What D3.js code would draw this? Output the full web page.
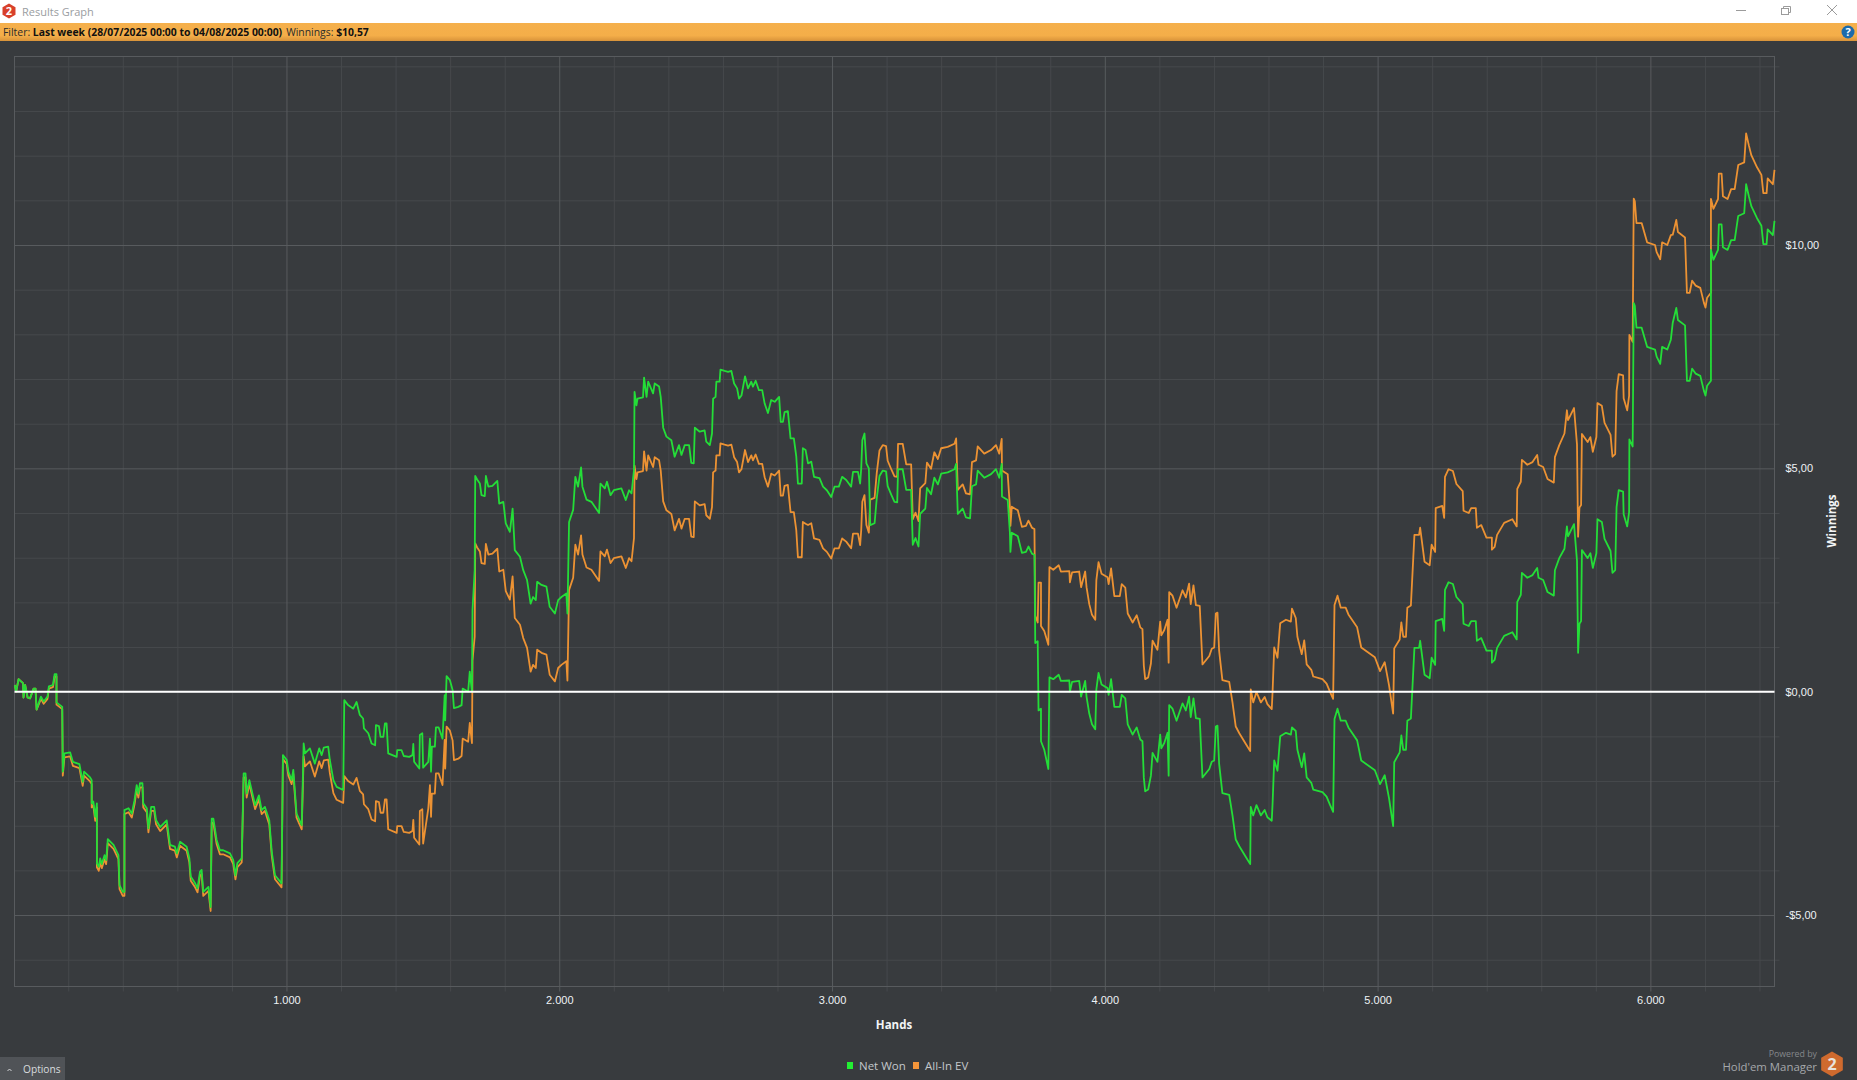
<!DOCTYPE html>
<html>
<head>
<meta charset="utf-8">
<title>Results Graph</title>
<script src="https://cdn.jsdelivr.net/npm/d3@7"></script>
<style>
  html, body { margin: 0; padding: 0; background: #383b3e; overflow: hidden; }
  svg { display: block; font-family: "Open Sans", "Noto Sans", sans-serif; }
  .domain { display: none; }
  .grid-minor line { stroke: #46494c; stroke-width: 1; }
  .grid-major line { stroke: #585b5e; stroke-width: 1; }
  .labels text { fill: #eef2f5; font-size: 11px; }
  .labels line { display: none; }
</style>
</head>
<body>
<div id="chart"></div>
<script>
var hands = [
  4,9,18,34,36,42,51,60,73,80,
  84,100,110,124,129,144,150,157,157,178,
  180,186,207,217,241,253,258,280,286,286,
  292,299,305,305,312,317,323,333,339,345,
  366,384,388,400,406,406,421,433,443,451,
  457,463,472,475,488,494,504,515,522,537,
  561,573,591,598,610,634,644,649,665,674,
  683,689,695,714,722,726,732,744,756,768,
  793,805,813,820,836,843,850,854,864,885,
  899,909,921,937,946,958,982,987,1001,1007,
  1019,1025,1037,1056,1063,1068,1086,1104,1120,1129,
  1137,1153,1159,1172,1184,1208,1212,1226,1245,1257,
  1269,1281,1284,1300,1312,1325,1328,1339,1345,1355,
  1361,1367,1373,1404,1406,1422,1430,1450,1462,1465,
  1468,1487,1489,1498,1501,1520,1526,1530,1533,1544,
  1548,1558,1572,1580,1582,1587,1599,1609,1614,1630,
  1642,1646,1666,1672,1680,1682,1690,1692,1699,1709,
  1715,1727,1731,1740,1755,1773,1780,1795,1804,1819,
  1829,1837,1856,1868,1882,1895,1904,1914,1919,1935,
  1953,1965,1984,1996,2008,2026,2030,2036,2051,2059,
  2069,2080,2085,2100,2118,2146,2151,2167,2175,2188,
  2200,2228,2244,2256,2265,2274,2276,2283,2287,2307,
  2311,2320,2326,2344,2350,2366,2372,2381,2393,2411,
  2423,2439,2448,2460,2476,2484,2493,2497,2515,2533,
  2539,2552,2560,2564,2573,2576,2588,2591,2606,2619,
  2631,2641,2652,2659,2668,2681,2692,2704,2710,2720,
  2732,2744,2753,2765,2777,2790,2806,2812,2820,2826,
  2838,2848,2860,2869,2875,2889,2893,2903,2912,2924,
  2934,2954,2967,2981,2997,3009,3025,3037,3052,3070,
  3077,3095,3103,3107,3111,3119,3126,3135,3140,3156,
  3164,3174,3186,3198,3204,3217,3229,3239,3242,3259,
  3272,3290,3296,3306,3317,3323,3342,3348,3363,3375,
  3388,3400,3424,3449,3455,3461,3479,3491,3506,3513,
  3528,3534,3558,3583,3601,3613,3622,3623,3644,3652,
  3654,3659,3681,3696,3711,3720,3733,3742,3745,3754,
  3757,3766,3766,3778,3793,3797,3811,3831,3839,3870,
  3872,3880,3906,3913,3928,3933,3943,3953,3965,3969,
  3977,3988,4010,4014,4023,4035,4055,4062,4075,4084,
  4102,4117,4130,4138,4143,4148,4159,4169,4175,4193,
  4203,4207,4218,4230,4234,4236,4248,4263,4285,4297,
  4309,4315,4325,4334,4348,4358,4383,4392,4401,4407,
  4413,4419,4431,4456,4468,4480,4493,4517,4533,4535,
  4544,4556,4572,4586,4596,4612,4615,4621,4633,4643,
  4664,4682,4686,4700,4706,4722,4731,4740,4757,4764,
  4798,4813,4826,4837,4842,4853,4865,4883,4893,4925,
  4940,4990,5009,5026,5042,5057,5061,5081,5087,5094,
  5104,5109,5122,5135,5152,5156,5172,5191,5198,5211,
  5213,5237,5244,5247,5260,5276,5289,5312,5315,5334,
  5343,5360,5364,5380,5399,5419,5419,5429,5438,5464,
  5494,5510,5512,5525,5529,5549,5568,5585,5590,5607,
  5623,5646,5650,5666,5685,5694,5698,5720,5731,5735,
  5740,5746,5749,5770,5780,5789,5802,5806,5822,5832,
  5854,5861,5871,5876,5884,5900,5902,5915,5922,5923,
  5935,5939,5943,5949,5968,5988,6017,6023,6036,6043,
  6062,6075,6082,6095,6101,6127,6134,6144,6153,6166,
  6183,6196,6202,6208,6222,6222,6231,6248,6251,6261,
  6266,6283,6296,6309,6322,6344,6351,6361,6370,6391,
  6407,6414,6426,6430,6449,6455
];

var netWon = [
  .15,0,.28,.19,-.13,.15,-.13,-.15,.07,.07,
  -.40,-.11,-.22,-.11,.12,.15,.39,.39,-.24,-.34,
  -1.79,-1.38,-1.36,-1.57,-1.62,-2.02,-1.79,-1.92,-1.98,-2.50,
  -2.46,-2.80,-2.50,-3.84,-3.92,-3.73,-3.86,-3.66,-3.77,-3.30,
  -3.43,-3.66,-4.33,-4.48,-4.48,-2.65,-2.61,-2.73,-2.43,-2.09,
  -2.28,-2.05,-2.05,-2.50,-2.61,-3.06,-2.58,-2.58,-2.88,-3.03,
  -2.88,-3.43,-3.47,-3.62,-3.36,-3.47,-3.73,-4.14,-4.29,-4.40,
  -4.03,-3.99,-4.48,-4.37,-4.82,-2.84,-2.84,-3.32,-3.55,-3.55,
  -3.62,-3.77,-4.11,-3.84,-3.73,-1.83,-1.83,-2.28,-1.98,-2.54,
  -2.32,-2.65,-2.58,-2.88,-3.58,-4.11,-4.29,-1.42,-1.53,-1.79,
  -1.98,-1.75,-2.73,-2.99,-1.16,-1.38,-1.27,-1.61,-1.27,-1.42,
  -1.25,-1.23,-1.53,-1.98,-2.13,-2.20,-.19,-.30,-.38,-.23,
  -.52,-.60,-.82,-.93,-1.16,-1.20,-.75,-.77,-1.01,-1.01,
  -.71,-.71,-1.38,-1.46,-1.31,-1.31,-1.44,-1.46,-1.42,-1.17,
  -1.57,-1.72,-.97,-.93,-1.70,-1.57,-1.05,-1.79,-1.23,-1.23,
  -.80,-.80,-1.05,-.08,-.64,.35,.26,.04,-.37,-.34,
  -.30,.07,0,.45,0,1.83,2.72,4.83,4.75,4.66,
  4.40,4.38,4.83,4.59,4.61,4.72,4.21,4.25,3.77,3.58,
  4.10,3.17,3.02,2.72,2.50,1.97,2.12,2.05,2.46,2.39,
  2.35,1.90,1.75,2.05,2.12,2.20,1.75,3.80,4.07,4.81,
  4.59,5.02,4.59,4.30,4.25,4.00,4.66,4.55,4.70,4.40,
  4.51,4.55,4.29,4.51,4.44,4.96,6.71,6.41,6.56,6.59,
  7.03,6.60,6.94,6.68,6.90,6.83,6.60,5.91,5.71,5.63,
  5.26,5.52,5.30,5.52,5.52,5.12,5.11,5.91,5.82,5.85,
  5.60,5.52,5.78,6.56,6.60,6.94,6.94,7.21,7.18,7.16,
  7.18,6.90,6.79,6.56,6.63,7.06,6.79,6.94,6.83,6.96,
  6.75,6.75,6.45,6.24,6.53,6.49,6.60,6.04,6.04,6.26,
  6.28,5.67,5.67,5.26,4.66,4.66,5.45,5.41,5.11,5.15,
  4.81,4.78,4.59,4.51,4.36,4.59,4.59,4.81,4.74,4.59,
  4.92,4.92,4.66,5.00,5.63,5.78,5.11,5.00,3.73,3.77,
  4.33,4.83,4.95,4.93,4.60,4.41,4.25,4.24,4.98,4.98,
  4.52,4.52,3.29,3.44,3.25,3.98,4.10,4.56,4.42,4.79,
  4.64,4.88,4.91,4.98,5.10,3.98,4.10,3.90,3.88,4.60,
  4.64,4.95,4.79,4.87,4.98,4.79,5.10,4.37,4.29,3.56,
  3.13,3.56,3.48,3.11,3.13,3.25,3.09,3.06,1.09,1.13,
  -.42,-.38,-1.11,-1.30,-1.73,.32,.28,.38,.24,.25,
  0,.22,.24,-.11,.24,-.11,-.49,-.73,-.84,.05,
  .42,.16,.08,-.07,.28,-.34,-.34,-.07,-.15,-.73,
  -.96,-.80,-1.07,-1.11,-1.93,-2.23,-2.19,-1.88,-1.37,-1.57,
  -.96,-1.27,-1.15,-.92,-1.88,-.30,-.38,-.65,-.26,-.42,
  -.11,-.57,-.15,-.59,-.61,-1.92,-1.73,-1.57,-1.54,-.78,
  -.76,-1.61,-2.27,-2.31,-2.77,-3.31,-3.46,-3.70,-3.86,-2.58,
  -2.77,-2.54,-2.77,-2.65,-2.81,-2.89,-2.50,-1.54,-1.77,-1.00,
  -.92,-.96,-.80,-.88,-1.30,-1.69,-1.38,-1.92,-2.04,-2.19,
  -2.25,-2.35,-2.54,-2.69,-.61,-.38,-.65,-.65,-.80,-1.09,
  -1.54,-1.76,-2.07,-1.87,-2.39,-3.01,-1.58,-1.36,-.98,-1.30,
  -1.30,-.65,-.60,.98,.98,1.14,.38,.30,.76,.60,
  1.58,1.63,1.36,2.28,2.45,2.41,2.12,1.96,1.52,1.47,
  1.58,1.58,1.14,1.20,.92,.92,.65,.71,.98,1.25,
  1.33,1.17,2.01,2.17,2.66,2.55,2.61,2.77,2.55,2.50,
  2.23,2.15,2.72,2.99,3.20,3.70,3.48,3.75,2.93,.87,
  1.52,1.58,3.17,2.99,3.10,2.77,3.10,3.86,3.80,3.42,
  3.15,2.66,2.72,4.13,4.51,4.48,3.97,3.70,4.02,5.65,
  5.49,8.70,8.64,8.15,8.15,7.72,7.66,7.50,7.34,7.72,
  7.66,7.88,8.26,8.59,8.32,8.20,6.96,6.96,7.23,7.12,
  7.07,6.74,6.63,6.85,6.96,9.89,9.67,9.89,10.46,10.46,
  9.95,9.89,10.11,10.11,10.65,10.71,11.36,11.09,10.87,10.60,
  10.43,10.02,10.02,10.35,10.22,10.54
];

var allInEv = [
  .15,0,.28,.19,-.13,.15,-.13,-.15,.07,.07,
  -.40,-.16,-.27,-.16,.07,.10,.34,.34,-.29,-.39,
  -1.88,-1.47,-1.45,-1.66,-1.71,-2.11,-1.88,-2.01,-2.07,-2.59,
  -2.55,-2.89,-2.59,-3.93,-4.01,-3.82,-3.95,-3.75,-3.86,-3.39,
  -3.52,-3.75,-4.42,-4.57,-4.57,-2.74,-2.70,-2.82,-2.52,-2.18,
  -2.37,-2.14,-2.14,-2.59,-2.70,-3.15,-2.67,-2.67,-2.97,-3.12,
  -2.97,-3.52,-3.56,-3.71,-3.45,-3.56,-3.82,-4.23,-4.38,-4.49,
  -4.12,-4.08,-4.57,-4.46,-4.91,-2.93,-2.93,-3.41,-3.64,-3.64,
  -3.71,-3.86,-4.20,-3.93,-3.82,-1.92,-1.92,-2.37,-2.07,-2.63,
  -2.41,-2.74,-2.67,-2.97,-3.67,-4.20,-4.38,-1.51,-1.62,-1.88,
  -2.07,-1.84,-2.82,-3.08,-1.45,-1.67,-1.56,-1.90,-1.56,-1.71,
  -1.54,-1.52,-1.82,-2.27,-2.42,-2.49,-1.89,-2.00,-2.08,-1.93,
  -2.22,-2.30,-2.52,-2.63,-2.86,-2.90,-2.45,-2.47,-2.71,-2.71,
  -2.41,-2.41,-3.08,-3.16,-3.01,-3.01,-3.14,-3.16,-3.12,-2.87,
  -3.27,-3.42,-2.67,-2.63,-3.40,-2.61,-2.09,-2.80,-2.28,-2.28,
  -1.83,-1.83,-2.09,-1.08,-1.72,-.78,-.87,-1.09,-1.53,-1.50,
  -1.44,-1.05,-1.12,-.70,-1.15,.70,1.23,3.32,3.23,3.14,
  2.88,2.86,3.31,3.07,3.09,3.20,2.69,2.73,2.25,2.06,
  2.58,1.65,1.50,1.20,.98,.45,.60,.53,.94,.87,
  .83,.38,.23,.53,.60,.68,.25,2.28,2.55,3.29,
  3.07,3.50,3.07,2.78,2.73,2.48,3.14,3.03,3.18,2.88,
  2.99,3.03,2.77,2.99,2.92,3.44,5.06,4.76,4.91,4.94,
  5.38,4.95,5.29,5.03,5.25,5.18,4.95,4.26,4.06,3.98,
  3.61,3.87,3.65,3.87,3.87,3.47,3.46,4.26,4.17,4.20,
  3.95,3.87,4.13,4.91,4.95,5.29,5.29,5.56,5.53,5.51,
  5.53,5.25,5.14,4.91,4.98,5.41,5.14,5.29,5.18,5.31,
  5.10,5.10,4.80,4.59,4.88,4.84,4.95,4.39,4.39,4.61,
  4.63,4.02,4.02,3.61,3.01,3.01,3.80,3.76,3.73,3.77,
  3.43,3.40,3.21,3.13,2.98,3.21,3.21,3.43,3.36,3.21,
  3.54,3.54,3.28,3.62,4.25,4.40,3.73,3.56,4.30,4.34,
  4.90,5.40,5.52,5.50,5.17,4.98,4.82,4.81,5.55,5.55,
  5.09,5.09,3.86,4.01,3.82,4.55,4.67,5.13,4.99,5.36,
  5.21,5.45,5.48,5.55,5.67,4.52,4.64,4.44,4.42,5.14,
  5.18,5.49,5.33,5.41,5.52,5.33,5.66,4.95,4.87,4.14,
  3.71,4.14,4.06,3.69,3.71,3.83,3.67,3.64,1.70,1.55,
  2.44,2.44,1.47,1.36,1.05,2.79,2.73,2.83,2.69,2.70,
  2.45,2.67,2.69,2.34,2.69,2.34,1.96,1.72,1.61,2.50,
  2.90,2.64,2.56,2.41,2.76,2.14,2.14,2.41,2.33,1.75,
  1.55,1.71,1.44,1.40,.58,.28,.32,.63,1.14,.94,
  1.57,1.26,1.38,1.61,.65,2.23,2.15,1.88,2.27,2.11,
  2.42,1.96,2.38,1.94,1.92,.61,.80,.96,.99,1.75,
  1.77,.92,.26,.22,-.24,-.78,-.93,-1.17,-1.33,.05,
  -.24,-.01,-.24,-.12,-.28,-.39,0,.99,.76,1.53,
  1.61,1.57,1.86,1.65,1.23,.84,1.15,.61,.49,.34,
  .28,.18,-.01,-.16,1.94,2.15,1.88,1.88,1.73,1.44,
  .99,.77,.46,.66,.14,-.49,.97,1.17,1.55,1.23,
  1.23,1.88,1.93,3.51,3.51,3.67,2.91,2.83,3.29,3.13,
  4.11,4.16,3.89,4.81,4.98,4.94,4.65,4.49,4.05,4.00,
  4.11,4.11,3.67,3.73,3.45,3.45,3.18,3.24,3.51,3.78,
  3.86,3.70,4.54,4.70,5.19,5.08,5.14,5.30,5.08,5.03,
  4.76,4.68,5.25,5.52,5.78,6.30,6.08,6.35,5.53,3.47,
  4.12,4.18,5.77,5.59,5.70,5.37,5.70,6.46,6.40,6.02,
  5.75,5.26,5.32,6.73,7.11,7.08,6.57,6.30,6.62,7.99,
  7.83,11.04,10.98,10.49,10.49,10.06,10.00,9.84,9.68,10.06,
  10.00,10.22,10.23,10.56,10.29,10.17,8.93,8.93,9.20,9.09,
  9.04,8.71,8.60,8.82,8.93,11.03,10.81,11.03,11.60,11.60,
  11.09,11.03,11.25,11.25,11.79,11.85,12.50,12.23,12.01,11.74,
  11.57,11.16,11.16,11.49,11.36,11.68
];

// marcas dos eixos
var majorHands = [1000, 2000, 3000, 4000, 5000, 6000];
var minorHands = [200,400,600,800,1200,1400,1600,1800,2200,2400,2600,2800,3200,3400,3600,3800,4200,4400,4600,4800,5200,5400,5600,5800,6200,6400];
var majorWinnings = [-5, 0, 5, 10];
var minorWinnings = [-6,-4,-3,-2,-1,1,2,3,4,6,7,8,9,11,12,13,14];

var width = 1857, height = 1080;
var plot = {left: 14.5, right: 1774.5, top: 56.5, bottom: 986.5};

var svg = d3.select("#chart").append("svg")
    .attr("width", width)
    .attr("height", height);

// Barra de titulo da janela
svg.append("rect").attr("width", width).attr("height", 23).attr("fill", "#ffffff");

var barGrad = svg.append("defs").append("linearGradient")
    .attr("id", "barGrad").attr("x1", 0).attr("x2", 0).attr("y1", 0).attr("y2", 1);
barGrad.append("stop").attr("offset", "0").attr("stop-color", "#f5b04c");
barGrad.append("stop").attr("offset", "0.7").attr("stop-color", "#f4ae49");
barGrad.append("stop").attr("offset", "1").attr("stop-color", "#d8933a");

svg.append("rect").attr("y", 23).attr("width", width).attr("height", 18).attr("fill", "url(#barGrad)");

function hexagon(g, cx, cy, r, fill, textColor, size) {
  var pts = d3.range(6).map(function(i) {
    var a = Math.PI / 6 + i * Math.PI / 3;
    return [cx + r * Math.cos(a), cy + r * Math.sin(a)];
  });
  g.append("polygon").attr("points", pts.join(" ")).attr("fill", fill);
  g.append("text").attr("x", cx).attr("y", cy + size * 0.37)
    .attr("text-anchor", "middle").attr("fill", textColor)
    .attr("font-size", size).attr("font-weight", 700).text("2");
}

hexagon(svg, 9, 11, 7.5, "#d8402a", "#ffffff", 11);

svg.append("text").attr("x", 22).attr("y", 16)
    .attr("font-size", 11).attr("fill", "#9a9da1").text("Results Graph");

// Botoes da janela
var win = svg.append("g").attr("stroke", "#9b9b9b").attr("fill", "none").attr("stroke-width", 1);
win.append("line").attr("x1", 1736).attr("x2", 1746).attr("y1", 10.5).attr("y2", 10.5);
win.append("rect").attr("x", 1781.5).attr("y", 8.5).attr("width", 7).attr("height", 6);
win.append("path").attr("d", "M1783.5 8.5V6.5H1790.5V12.5H1788.5");
win.append("line").attr("x1", 1827).attr("x2", 1837).attr("y1", 5).attr("y2", 15);
win.append("line").attr("x1", 1837).attr("x2", 1827).attr("y1", 5).attr("y2", 15);

// Filtro
var filter = svg.append("text").attr("x", 3).attr("y", 36)
    .attr("font-size", 10.4).attr("fill", "#2b2b2b");
filter.append("tspan").text("Filter: ");
filter.append("tspan").attr("font-weight", 700).attr("fill", "#111111")
    .text("Last week (28/07/2025 00:00 to 04/08/2025 00:00)");
filter.append("tspan").attr("dx", 4).text("Winnings: ");
filter.append("tspan").attr("font-weight", 700).attr("fill", "#111111").text("$10,57");

svg.append("circle").attr("cx", 1848).attr("cy", 32).attr("r", 6.5).attr("fill", "#1c6bab");
svg.append("text").attr("x", 1848).attr("y", 36).attr("text-anchor", "middle")
    .attr("font-size", 11).attr("font-weight", 700).attr("fill", "#ffffff").text("?");

// Escalas
var x = d3.scaleLinear().domain([3, 6455]).range([plot.left, plot.right]);
var y = d3.scaleLinear().domain([-6.6, 14.22]).range([plot.bottom, plot.top]);

var locale = d3.formatLocale({decimal: ",", thousands: ".", grouping: [3], currency: ["$", ""]});
var handFormat = locale.format(",d");
var moneyFormat = function(d) { return (d < 0 ? "-" : "") + locale.format("$.2f")(Math.abs(d)); };

var plotW = plot.right - plot.left;
var plotH = plot.bottom - plot.top;

// Grades: os ticks dos eixos atravessam o grafico e passam 5px da borda
svg.append("g").attr("class", "grid-minor")
    .attr("transform", "translate(0," + plot.top + ")")
    .call(d3.axisBottom(x).tickValues(minorHands).tickSize(plotH + 5).tickFormat(""));
svg.append("g").attr("class", "grid-minor")
    .attr("transform", "translate(" + plot.left + ",0)")
    .call(d3.axisRight(y).tickValues(minorWinnings).tickSize(plotW + 5).tickFormat(""));
svg.append("g").attr("class", "grid-major")
    .attr("transform", "translate(0," + plot.top + ")")
    .call(d3.axisBottom(x).tickValues(majorHands).tickSize(plotH + 5).tickFormat(""));
svg.append("g").attr("class", "grid-major")
    .attr("transform", "translate(" + plot.left + ",0)")
    .call(d3.axisRight(y).tickValues(majorWinnings).tickSize(plotW).tickFormat(""));

svg.append("rect")
    .attr("x", plot.left).attr("y", plot.top)
    .attr("width", plotW).attr("height", plotH)
    .attr("fill", "none").attr("stroke", "#585b5e");

// Rotulos dos eixos
svg.append("g").attr("class", "labels")
    .attr("transform", "translate(0," + plot.bottom + ")")
    .call(d3.axisBottom(x).tickValues(majorHands).tickSize(0).tickPadding(10).tickFormat(handFormat));
svg.append("g").attr("class", "labels")
    .attr("transform", "translate(" + plot.right + ",0)")
    .call(d3.axisRight(y).tickValues(majorWinnings).tickSize(0).tickPadding(11).tickFormat(moneyFormat));

svg.append("text").attr("x", 894).attr("y", 1029).attr("text-anchor", "middle")
    .attr("font-size", 11.5).attr("font-weight", 700).attr("fill", "#f2f4f6").text("Hands");
svg.append("text").attr("transform", "translate(1836,521) rotate(-90)").attr("text-anchor", "middle")
    .attr("font-size", 11.5).attr("font-weight", 700).attr("fill", "#f2f4f6").text("Winnings");

// Linhas
var line = d3.line()
    .x(function(d) { return x(d[0]); })
    .y(function(d) { return y(d[1]); });

svg.append("path")
    .datum(d3.zip(hands, allInEv))
    .attr("fill", "none").attr("stroke", "#ec9233").attr("stroke-width", 1.8)
    .attr("stroke-linejoin", "round")
    .attr("d", line);

svg.append("path")
    .datum(d3.zip(hands, netWon))
    .attr("fill", "none").attr("stroke", "#24dd38").attr("stroke-width", 1.8)
    .attr("stroke-linejoin", "round")
    .attr("d", line);

// Linha do zero
svg.append("line")
    .attr("x1", plot.left).attr("x2", plot.right)
    .attr("y1", y(0)).attr("y2", y(0))
    .attr("stroke", "#ffffff").attr("stroke-width", 2);

// Legenda
var legendNames = ["Net Won", "All-In EV"];
var legendColors = ["#22ee33", "#f4953a"];
var legendX = [847, 913];
var legend = svg.append("g").selectAll("g").data(legendNames).enter().append("g")
    .attr("transform", function(d, i) { return "translate(" + legendX[i] + ",1062)"; });
legend.append("rect").attr("width", 6).attr("height", 7)
    .attr("fill", function(d, i) { return legendColors[i]; });
legend.append("text").attr("x", 12).attr("y", 8)
    .attr("font-size", 11.5).attr("fill", "#c3c7cb")
    .text(function(d) { return d; });

// Botao de opcoes
svg.append("rect").attr("y", 1057).attr("width", 65).attr("height", 23).attr("fill", "#505357");
svg.append("path").attr("d", "M7.5 1071L9.5 1069L11.5 1071").attr("fill", "none").attr("stroke", "#d6d8da");
svg.append("text").attr("x", 23).attr("y", 1073).attr("font-size", 10.2).attr("fill", "#d9dcdf").text("Options");

// Marca
svg.append("text").attr("x", 1817).attr("y", 1057).attr("text-anchor", "end")
    .attr("font-size", 8.8).attr("fill", "#85888b").text("Powered by");
svg.append("text").attr("x", 1817).attr("y", 1071).attr("text-anchor", "end")
    .attr("font-size", 11.4).attr("fill", "#a5a8ab").text("Hold'em Manager");
hexagon(svg, 1832, 1064, 12.5, "#cf6a2e", "#e8e2dc", 16);
</script>
</body>
</html>
